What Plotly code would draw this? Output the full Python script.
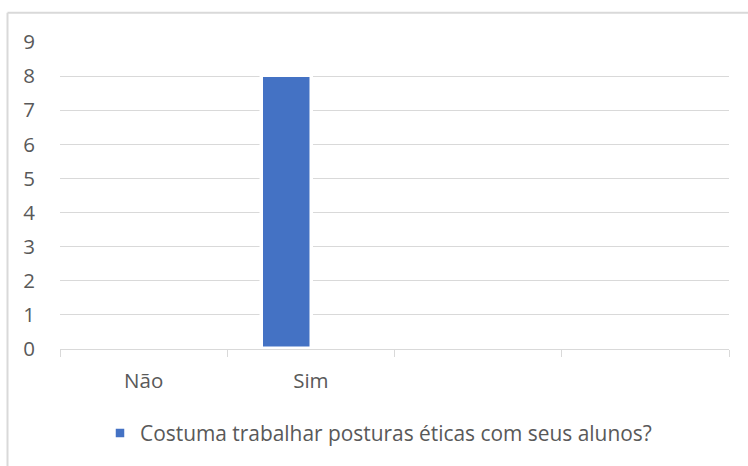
import plotly.graph_objects as go

categories = ["Não", "Sim", "", ""]
values = [0, 8, None, None]
series_name = "Costuma trabalhar posturas éticas com seus alunos?"
y_ticks = [0, 1, 2, 3, 4, 5, 6, 7, 8, 9]

W, H = 748, 466
ML, MR, MT, MB = 60, 19, 42, 115
pw = W - ML - MR
ph = H - MT - MB

def px_x(p):
    return (p - ML) / pw

def px_y(p):
    return (H - MB - p) / ph

xpos = list(range(len(categories)))
text_color = "#595959"
grid_color = "#D9D9D9"
font_family = "Open Sans"
fsize = 20.5

fig = go.Figure()
fig.add_trace(go.Bar(
    x=xpos, y=values, name=series_name,
    marker=dict(color="#4472C4", line=dict(color="white", width=3.5)),
    width=0.3, offset=-0.295, showlegend=True,
))

fig.update_layout(
    width=W, height=H,
    margin=dict(l=ML, r=MR, t=MT, b=MB),
    paper_bgcolor="white", plot_bgcolor="white",
    font=dict(family=font_family, size=fsize, color=text_color),
    bargap=0,
    showlegend=True,
    legend=dict(orientation="h", x=px_x(100), xanchor="left", y=px_y(436), yanchor="middle",
                font=dict(size=20.9, color=text_color), itemwidth=30, bgcolor="rgba(0,0,0,0)"),
    xaxis=dict(
        range=[-0.5, len(categories) - 0.5],
        tickmode="array", tickvals=xpos, ticktext=categories,
        ticks="", showgrid=False, zeroline=False,
        showline=True, linecolor=grid_color, linewidth=1.3,
        ticklabelstandoff=13,
        minor=dict(tickmode="array", tickvals=[i - 0.5 for i in range(len(categories) + 1)],
                   ticks="outside", ticklen=7, tickcolor=grid_color, tickwidth=1.3, showgrid=False),
        fixedrange=True,
    ),
    yaxis=dict(
        range=[0, 9], tickmode="array", tickvals=y_ticks,
        showgrid=True, gridcolor=grid_color, gridwidth=1.3,
        zeroline=False, showline=False, ticks="",
        ticklabelstandoff=24,
        fixedrange=True,
    ),
    shapes=[
        dict(type="line", xref="paper", yref="paper", x0=px_x(7.5), x1=px_x(760), y0=px_y(12.5), y1=px_y(12.5),
             line=dict(color=grid_color, width=2)),
        dict(type="line", xref="paper", yref="paper", x0=px_x(7.5), x1=px_x(7.5), y0=px_y(12.5), y1=px_y(480),
             line=dict(color=grid_color, width=2)),
    ],
)

fig.write_html("out.html", config={"displayModeBar": False},
               post_script="document.body.style.margin='0';document.body.style.padding='0';")
